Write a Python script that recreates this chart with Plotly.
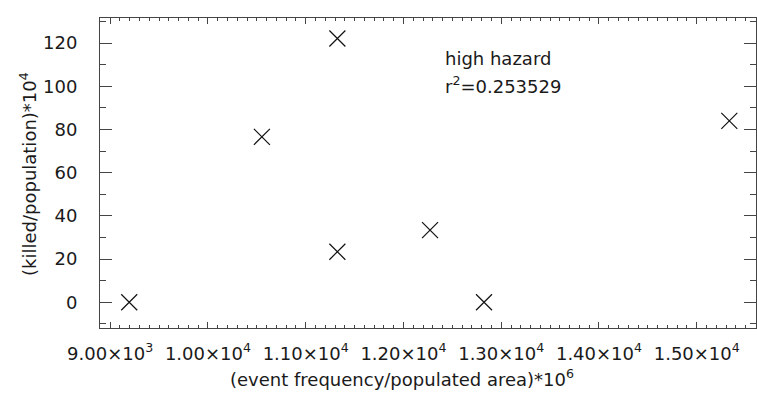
import plotly.graph_objects as go

# data
x_vals = [9195, 10552, 11324, 11324, 12272, 12824, 15333]
y_vals = [0.0, 76.6, 122.1, 23.4, 33.4, 0.0, 84.0]

x_tick_vals = [9000, 10000, 11000, 12000, 13000, 14000, 15000]
x_tick_text = ["9.00×10<sup>3</sup>", "1.00×10<sup>4</sup>", "1.10×10<sup>4</sup>",
               "1.20×10<sup>4</sup>", "1.30×10<sup>4</sup>", "1.40×10<sup>4</sup>",
               "1.50×10<sup>4</sup>"]
y_tick_vals = [0, 20, 40, 60, 80, 100, 120]

x_range = [8896, 15606]
y_range = [-11.9, 131.6]

FONT = "DejaVu Sans"
INK = "#1a1a1a"
AX = "#444444"

fig = go.Figure()
fig.add_trace(go.Scatter(
    x=x_vals, y=y_vals, mode="markers",
    marker=dict(symbol="x-thin", size=16, line=dict(width=1.2, color="#111111"), color="#111111"),
    showlegend=False, hoverinfo="skip"))

fig.update_layout(
    width=757, height=394,
    margin=dict(l=100, r=1, t=18, b=66),
    paper_bgcolor="white", plot_bgcolor="white",
    font=dict(family=FONT, size=17, color=INK),
    xaxis=dict(range=x_range, tickvals=x_tick_vals, ticktext=x_tick_text,
               ticks="inside", ticklen=6, tickwidth=1, tickcolor=AX,
               showline=True, linecolor=AX, linewidth=1, mirror="ticks",
               showgrid=False, zeroline=False, ticklabelstandoff=9,
               tickfont=dict(family=FONT, size=18, color=INK),
               minor=dict(dtick=100, tick0=0, ticks="inside", ticklen=3, tickcolor=AX, showgrid=False)),
    yaxis=dict(range=y_range, tickvals=y_tick_vals,
               ticks="inside", ticklen=12, tickwidth=1, tickcolor=AX,
               showline=True, linecolor=AX, linewidth=1, mirror="ticks",
               showgrid=False, zeroline=False, ticklabelstandoff=18,
               tickfont=dict(family=FONT, size=18, color=INK),
               minor=dict(dtick=10, tick0=0, ticks="inside", ticklen=6, tickcolor=AX, showgrid=False)),
)

fig.add_annotation(text="high hazard", xref="paper", yref="paper",
                   x=(443 - 100) / 656, y=(328 - 59) / 310, xanchor="left", yanchor="middle",
                   showarrow=False, font=dict(family=FONT, size=18, color=INK))
fig.add_annotation(text="r<sup>2</sup>=0.253529", xref="paper", yref="paper",
                   x=(443 - 100) / 656, y=(328 - 85) / 310, xanchor="left", yanchor="middle",
                   showarrow=False, font=dict(family=FONT, size=18, color=INK))
fig.add_annotation(text="(event frequency/populated area)*10<sup>6</sup>", xref="paper", yref="paper",
                   x=(402 - 100) / 656, y=(328 - 378) / 310, xanchor="center", yanchor="middle",
                   showarrow=False, font=dict(family=FONT, size=18, color=INK))
fig.add_annotation(text="(killed/population)*10<sup>4</sup>", xref="paper", yref="paper",
                   x=(28 - 100) / 656, y=(328 - 174) / 310, xanchor="center", yanchor="middle",
                   textangle=-90, showarrow=False, font=dict(family=FONT, size=18, color=INK))

fig.write_html("out.html", config={"displayModeBar": False},
               post_script="document.body.style.margin='0';document.body.style.overflow='hidden';")
